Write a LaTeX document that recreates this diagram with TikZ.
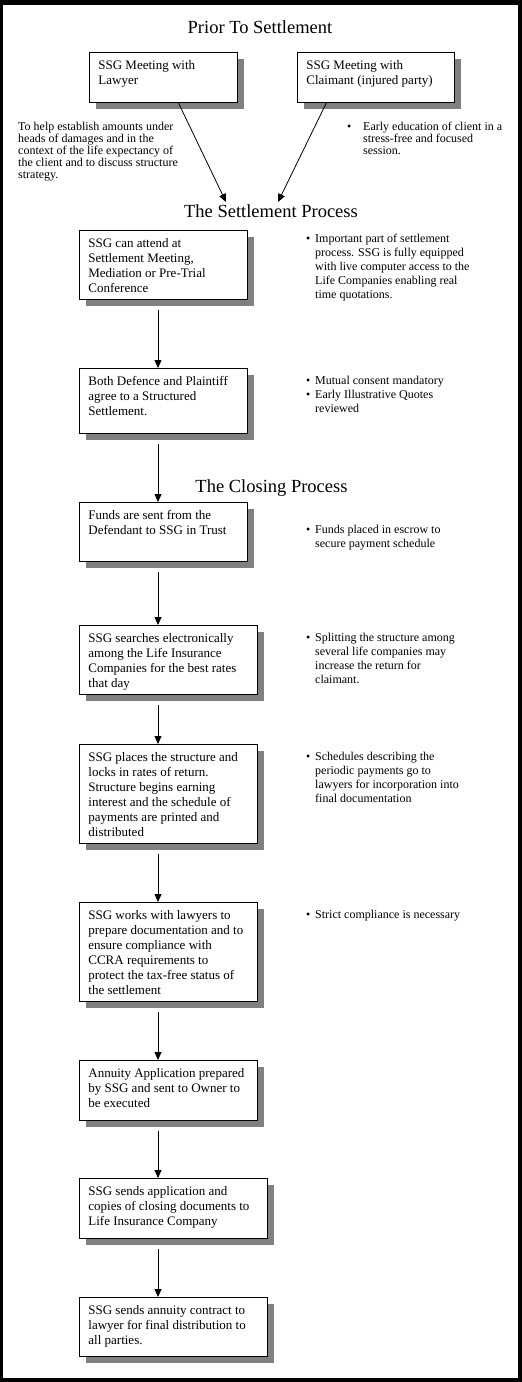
\documentclass[tikz,border=0pt]{standalone}
\usepackage{fontspec}
\setmainfont{Liberation Serif}
\usetikzlibrary{arrows.meta,shadows}

\newcommand{\stepbody}[3]{\hspace*{9pt}\parbox[c][#2][t]{\dimexpr#1-9pt\relax}{\raggedright\rule{0pt}{17pt}#3}}
\newcommand{\notetop}{\rule{0pt}{10pt}}
\newcommand{\bul}[1][5pt]{\llap{\textbullet\hspace{#1}}}

\begin{document}
\begin{tikzpicture}[x=1pt,y=-1pt,
    stepbox/.style={draw,line width=0.8pt,fill=white,inner sep=0pt,anchor=north west,
      font=\fontsize{13}{15}\selectfont,
      drop shadow={shadow xshift=7pt,shadow yshift=-7pt,fill=black!50,opacity=1}},
    heading/.style={anchor=base,inner sep=0pt,font=\fontsize{18.5}{22}\selectfont},
    note/.style={anchor=north west,inner sep=0pt,align=left,font=\fontsize{12}{14}\selectfont},
    flow/.style={-{Triangle[length=8pt,width=7pt]},line width=0.8pt}]
      \pgfmathsetmacro{\spinex}{158}
      \useasboundingbox (0,0) rectangle (522,1382);
      % Frame
      \fill[black] (0,0) rectangle (522,1382);
      \fill[white] (3,5) rectangle (518,1378);
      % Headings
      \node[heading] (prior) at (260,33) {Prior To Settlement};
      \node[heading] (settling) at (271,217) {The Settlement Process};
      \node[heading] (closing) at (271.5,492) {The Closing Process};
      % Prior to settlement
      \node[stepbox] (lawyer) at (89,52) {\stepbody{148pt}{50pt}{SSG Meeting with\\Lawyer}};
      \node[stepbox] (claimant) at (297,52) {\stepbody{157pt}{50pt}{SSG Meeting with\\Claimant (injured party)}};
      \node[note,font=\fontsize{12}{12}\selectfont] (lawnote) at (18,120) {\notetop To help establish amounts under\\
        heads of damages and in the\\context of the life expectancy of\\
        the client and to discuss structure\\strategy.};
      \node[note,font=\fontsize{12}{12}\selectfont] (claimnote) at (363,120) {\notetop\bul[12pt]Early education of client in a\\
        stress-free and focused\\session.};
      \coordinate (meetL) at (226,202);
      \coordinate (meetR) at (278,202);
      \draw[flow] ([xshift=15pt]lawyer.south) -- (meetL);
      \draw[flow] ([xshift=-49.5pt]claimant.south) -- (meetR);
      % Settlement process
      \node[stepbox] (settle) at (79,230) {\stepbody{168pt}{69pt}{SSG can attend at\\Settlement Meeting,\\Mediation or Pre-Trial\\Conference}};
      \node[note] (settlenote) at (315,232) {\notetop\bul Important part of settlement\\
        process. SSG is fully equipped\\with live computer access to the\\
        Life Companies enabling real\\time quotations.};
      \node[stepbox] (agree) at (79,368) {\stepbody{168pt}{65pt}{Both Defence and Plaintiff\\agree to a Structured\\Settlement.}};
      \node[note] (agreenote) at (315,374.5) {\notetop\bul Mutual consent mandatory\\
        \bul Early Illustrative Quotes\\reviewed};
      % Closing process
      \node[stepbox] (funds) at (79,502) {\stepbody{168pt}{59pt}{Funds are sent from the\\Defendant to SSG in Trust}};
      \node[note] (fundsnote) at (315,523.5) {\notetop\bul Funds placed in escrow to\\secure payment schedule};
      \node[stepbox] (search) at (79,625) {\stepbody{178pt}{69pt}{SSG searches electronically\\among the Life Insurance\\
        Companies for the best rates\\that day}};
      \node[note] (searchnote) at (315,631.5) {\notetop\bul Splitting the structure among\\
        several life companies may\\increase the return for\\claimant.};
      \node[stepbox] (places) at (79,744) {\stepbody{178pt}{99pt}{SSG places the structure and\\locks in rates of return.\\
        Structure begins earning\\interest and the schedule of\\payments are printed and\\distributed}};
      \node[note] (placesnote) at (315,750.5) {\notetop\bul Schedules describing the\\
        periodic payments go to\\lawyers for incorporation into\\final documentation};
      \node[stepbox] (works) at (79,902) {\stepbody{178pt}{99pt}{SSG works with lawyers to\\prepare documentation and to\\
        ensure compliance with\\CCRA requirements to\\protect the tax-free status of\\the settlement}};
      \node[note] (worksnote) at (315,908.5) {\notetop\bul Strict compliance is necessary};
      \node[stepbox] (annuity) at (79,1060) {\stepbody{178pt}{60pt}{Annuity Application prepared\\by SSG and sent to Owner to\\be executed}};
      \node[stepbox] (sendapp) at (79,1178) {\stepbody{188pt}{60pt}{SSG sends application and\\copies of closing documents to\\
        Life Insurance Company}};
      \node[stepbox] (contract) at (79,1297) {\stepbody{188pt}{59pt}{SSG sends annuity contract to\\lawyer for final distribution to\\
        all parties.}};
      % Flow arrows
      \coordinate (spine) at (\spinex,0);
      \foreach \src/\dst in {settle/agree,agree/funds,funds/search,search/places,
        places/works,works/annuity,annuity/sendapp,sendapp/contract}
        \draw[flow,shorten <=10pt] (\src.south -| spine) -- (\dst.north -| spine);
    \end{tikzpicture}
\end{document}
